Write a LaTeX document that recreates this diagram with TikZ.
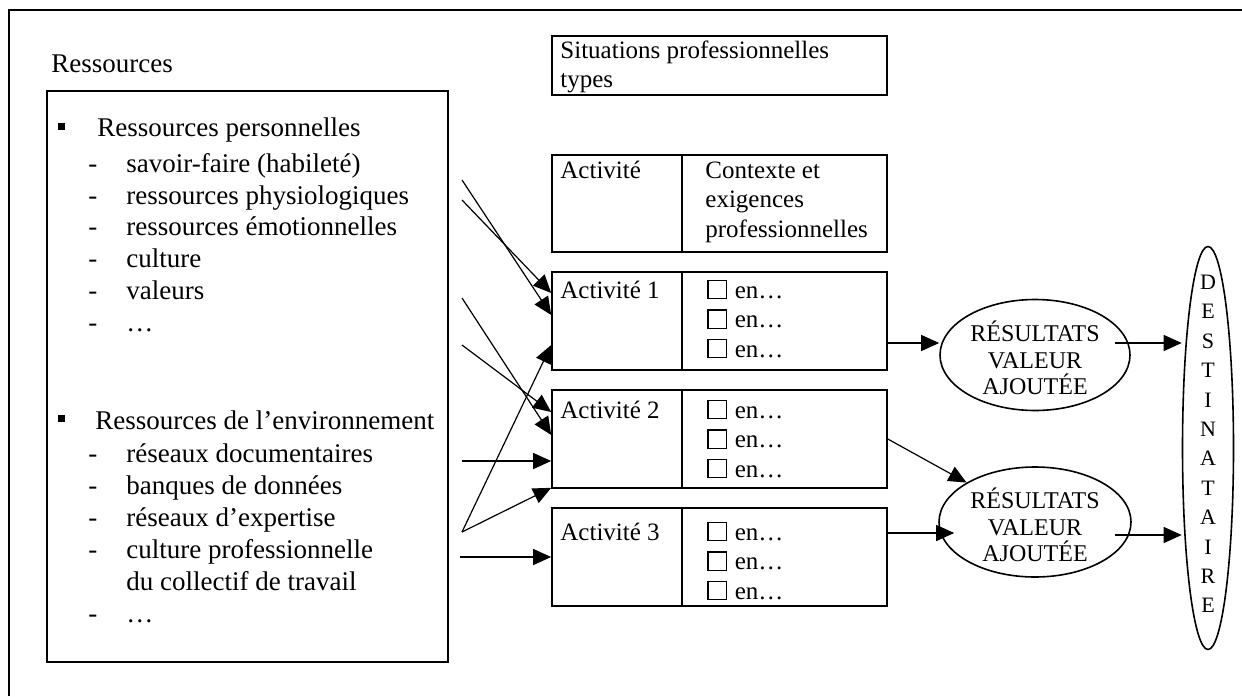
\documentclass[tikz,border=0pt]{standalone}
\usepackage{fontspec}
\setmainfont{Liberation Serif}
\usetikzlibrary{arrows.meta,shapes.geometric}
\newcommand{\cbx}{{\setlength{\fboxsep}{0pt}\setlength{\fboxrule}{0.6pt}\fbox{\rule{0pt}{8.5pt}\hspace{8.5pt}}}\hspace{4pt}}
\begin{document}
\begin{tikzpicture}[x=0.5pt,y=-0.5pt,
  box/.style={draw,line width=0.8pt,inner sep=0,rectangle},
  ltxt/.style={inner sep=0,anchor=base west,font=\fontsize{13.5}{16}\selectfont},
  mtxt/.style={inner sep=0,anchor=base west,font=\fontsize{12.5}{15}\selectfont},
  arr/.style={line width=0.6pt,-{Triangle[length=9pt,width=8pt]}},
  ell/.style={draw,ellipse,line width=0.8pt,inner sep=0},
  etxt/.style={align=center,inner sep=0,font=\fontsize{12}{13.25}\selectfont},
  cellL/.style={box,minimum width=65pt,minimum height=49pt},
  cellR/.style={box,minimum width=102.5pt,minimum height=49pt},
  ]
\useasboundingbox (0,0) rectangle (1242,696);
% outer frame
\draw[line width=1.2pt] (9,696) -- (9,10) -- (1242,10);

% resources
\node[ltxt] (restitle) at (51,72) {Ressources};
\node[box,minimum width=200.5pt,minimum height=285.5pt] (res) at (247.5,376.5) {};
\node[fill,inner sep=0,minimum size=3.5pt] (b1) at (61,126) {};
\node[ltxt] (rp) at (97,136) {Ressources personnelles};
\node[ltxt] (pd1) at (88,172.5) {-}; \node[ltxt] (pt1) at (126,172.5) {savoir-faire (habileté)};
\node[ltxt] (pd2) at (88,204.2) {-}; \node[ltxt] (pt2) at (126,204.2) {ressources physiologiques};
\node[ltxt] (pd3) at (88,235.9) {-}; \node[ltxt] (pt3) at (126,235.9) {ressources émotionnelles};
\node[ltxt] (pd4) at (88,267.6) {-}; \node[ltxt] (pt4) at (126,267.6) {culture};
\node[ltxt] (pd5) at (88,299.3) {-}; \node[ltxt] (pt5) at (126,299.3) {valeurs};
\node[ltxt] (pd6) at (88,331) {-}; \node[ltxt] (pt6) at (126,331) {…};

\node[fill,inner sep=0,minimum size=3.5pt] (b2) at (61,418) {};
\node[ltxt] (re) at (95,429) {Ressources de l’environnement};
\node[ltxt] (ed1) at (88,462) {-}; \node[ltxt] (et1) at (126,462) {réseaux documentaires};
\node[ltxt] (ed2) at (88,494) {-}; \node[ltxt] (et2) at (126,494) {banques de données};
\node[ltxt] (ed3) at (88,526) {-}; \node[ltxt] (et3) at (126,526) {réseaux d’expertise};
\node[ltxt] (ed4) at (88,558) {-}; \node[ltxt] (et4) at (126,558) {culture professionnelle};
\node[ltxt] (et5) at (126,590) {du collectif de travail};
\node[ltxt] (ed6) at (88,622) {-}; \node[ltxt] (et6) at (126,622) {…};

% situations
\node[box,minimum width=167.5pt,minimum height=29.5pt] (sit) at (719.5,65.5) {};
\node[mtxt] (sitt1) at (560,58) {Situations professionnelles};
\node[mtxt] (sitt2) at (560,87.5) {types};

% table
\node[cellL,minimum height=48.5pt] (h1) at (617,203.5) {};
\node[cellR,minimum height=48.5pt] (h2) at (784.5,203.5) {};
\node[mtxt] (h1t) at (560,178) {Activité};
\node[mtxt] (h2t1) at (705,178) {Contexte et};
\node[mtxt] (h2t2) at (705,207.5) {exigences};
\node[mtxt] (h2t3) at (705,237) {professionnelles};

\node[cellL] (a1l) at (617,321) {};
\node[cellR] (a1r) at (784.5,321) {};
\node[mtxt] (a1t) at (560,298) {Activité 1};
\node[mtxt] (a1i1) at (707,298) {\cbx en…};
\node[mtxt] (a1i2) at (707,327.5) {\cbx en…};
\node[mtxt] (a1i3) at (707,357) {\cbx en…};

\node[cellL] (a2l) at (617,439) {};
\node[cellR] (a2r) at (784.5,439) {};
\node[mtxt] (a2t) at (560,418) {Activité 2};
\node[mtxt] (a2i1) at (707,418) {\cbx en…};
\node[mtxt] (a2i2) at (707,447.5) {\cbx en…};
\node[mtxt] (a2i3) at (707,477) {\cbx en…};

\node[cellL] (a3l) at (617,557) {};
\node[cellR] (a3r) at (784.5,557) {};
\node[mtxt] (a3t) at (560,540) {Activité 3};
\node[mtxt] (a3i1) at (707,540) {\cbx en…};
\node[mtxt] (a3i2) at (707,569.5) {\cbx en…};
\node[mtxt] (a3i3) at (707,599) {\cbx en…};

% results
\node[ell,minimum width=95pt,minimum height=55.5pt] (r1) at (1035,355) {};
\node[etxt] (r1t) at (1035,358) {RÉSULTATS\\VALEUR\\AJOUTÉE};
\node[ell,minimum width=96pt,minimum height=55pt] (r2) at (1035,522) {};
\node[etxt] (r2t) at (1035,525) {RÉSULTATS\\VALEUR\\AJOUTÉE};

% destinataire
\node[ell,minimum width=25.5pt,minimum height=201.5pt] (dest) at (1208,448) {};
\node[etxt,font=\fontsize{11}{14.7}\selectfont] (destt) at (1208,444) {D\\E\\S\\T\\I\\N\\A\\T\\A\\I\\R\\E};

% left arrow starts
\coordinate (s1) at (462,180);
\coordinate (s2) at (462,200);
\coordinate (s3) at (462,298);
\coordinate (s4) at (462,345);
\coordinate (s5) at (462,461);
\coordinate (s6) at (462,532);
\coordinate (s7) at (460,557);

\draw[arr] (s1) -- ([yshift=3pt]a1l.west);
\draw[arr] (s2) -- ([yshift=14pt]a1l.west);
\draw[arr] (s3) -- ([yshift=2pt]a2l.west);
\draw[arr] (s4) -- ([yshift=13.5pt]a2l.west);
\draw[arr] (s5) -- ([yshift=-11pt]a2l.west);
\draw[arr] (s6) -- ([yshift=-12pt]a1l.west);
\draw[arr] (s6) -- ([yshift=0.5pt]a2l.south west);
\draw[arr] (s7) -- (a3l.west);

% right arrows
\draw[arr] ([yshift=-11pt]a1r.east) -- ([yshift=6pt]r1.west);
\draw[arr] (a2r.east) -- (r2.north west);
\draw[arr] ([yshift=12pt]a3r.east) -- ([xshift=8pt,yshift=-5.5pt]r2.west);
\draw[arr] ([xshift=40pt,yshift=6pt]r1.center) -- ([yshift=52.5pt]dest.west);
\draw[arr] ([xshift=40pt,yshift=-6.5pt]r2.center) -- ([yshift=-43.5pt]dest.west);
\end{tikzpicture}
\end{document}
